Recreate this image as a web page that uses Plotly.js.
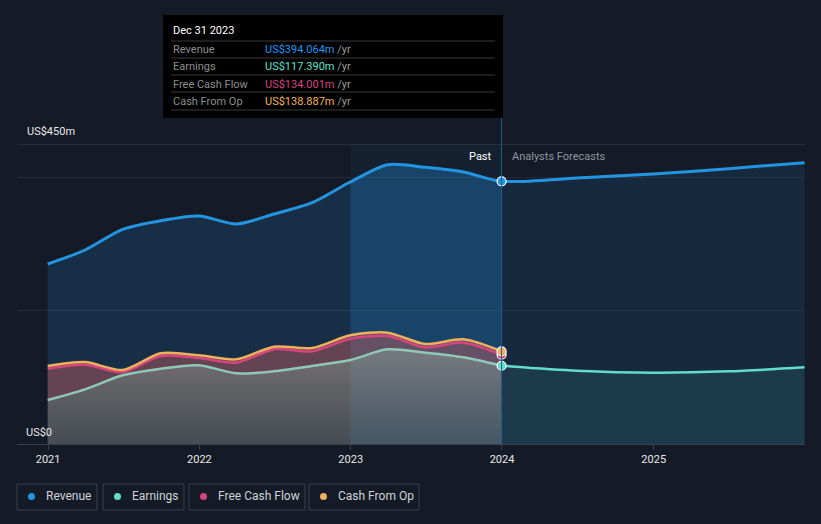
<!DOCTYPE html>
<html>
<head>
<meta charset="utf-8">
<script src="https://cdn.plot.ly/plotly-3.0.1.min.js"></script>
<style>
html,body{margin:0;padding:0;background:#151b26;}
#chart{width:821px;height:524px;}
</style>
</head>
<body>
<div id="chart"></div>
<script>
// ---- data ----
const pastDates = ['2020-12-31','2021-03-31','2021-06-30','2021-09-30','2021-12-31','2022-03-31','2022-06-30','2022-09-30','2022-12-31','2023-03-31','2023-06-30','2023-09-30','2023-12-31'];
const revenuePast = [270,291,322,335,342,330,345,362,393,419,415,408,394.064];
const earningsPast = [66,82,103,113,118,106,109,117,126,142,137,130,117.39];
const fcfPast = [113,119,108,132,129,122,142,139,158,162,145,152,134.001];
const cfoPast = [117,123,111,136,133,127,146,144,163,167,150,157,138.887];

const forecastDates = ['2023-12-31','2024-06-30','2024-12-31','2025-06-30','2025-12-31'];
const revenueForecast = [394.064,399,405,413,422];
const earningsForecast = [117.39,110,107,109,115];

const yTickLabels = ['US$0','US$450m'];
const xTickYears = ['2021','2022','2023','2024','2025'];
const legendNames = ['Revenue','Earnings','Free Cash Flow','Cash From Op'];
const tooltipDate = 'Dec 31 2023';
const tooltipValues = ['US$394.064m','US$117.390m','US$134.001m','US$138.887m'];

// ---- styles ----
const C = {rev:'#2394e0', earn:'#62dccb', earnPast:'#8fc9b6', fcf:'#d6457e', cfo:'#eeb05a'};
const W = 821, H = 524, ML = 17, MR = 16, MT = 144, MB = 80;
const PW = W-ML-MR, PH = H-MT-MB;
const px = x => (x-ML)/PW;
const py = y => (H-MB-y)/PH;

const splitIdx = 8; // 2022-12-31
const traces = [];
function fillTrace(x,y,color,mode,grad){
  const t = {x:x,y:y,type:'scatter',mode:'lines',line:{width:0,shape:'spline',smoothing:0.8},
    fill:mode,fillcolor:color,hoverinfo:'skip',showlegend:false};
  if (grad) t.fillgradient = grad;
  traces.push(t);
}
fillTrace(pastDates.slice(0,splitIdx+1), revenuePast.slice(0,splitIdx+1), 'rgba(33,150,243,0.16)','tozeroy');
fillTrace(pastDates.slice(splitIdx), revenuePast.slice(splitIdx), 'rgba(33,150,243,0.30)','tozeroy');
fillTrace(forecastDates, revenueForecast, 'rgba(33,150,243,0.12)','tozeroy');
fillTrace(pastDates, earningsPast, 'rgba(150,130,120,0.55)','tozeroy',
  {type:'vertical',start:0,stop:130,colorscale:[[0,'rgba(112,104,96,0.52)'],[1,'rgba(176,153,139,0.6)']]});
fillTrace(pastDates, cfoPast, 'rgba(195,95,95,0.45)','tonexty');
fillTrace(forecastDates, earningsForecast, 'rgba(100,220,200,0.10)','tozeroy');

function lineTrace(x,y,color,w){
  traces.push({x:x,y:y,type:'scatter',mode:'lines',line:{width:w,color:color,shape:'spline',smoothing:0.8},
    hoverinfo:'skip',showlegend:false});
}
lineTrace(pastDates.concat(forecastDates.slice(1)), revenuePast.concat(revenueForecast.slice(1)), C.rev, 3);
lineTrace(pastDates, earningsPast, C.earnPast, 2.5);
lineTrace(forecastDates, earningsForecast, C.earn, 2.5);
lineTrace(pastDates, fcfPast, C.fcf, 2.5);
lineTrace(pastDates, cfoPast, C.cfo, 2.5);

const last = pastDates.length-1;
function marker(y,color){
  traces.push({x:[pastDates[last]],y:[y],type:'scatter',mode:'markers',
    marker:{size:9,color:color,line:{color:'#ffffff',width:1.2}},hoverinfo:'skip',showlegend:false});
}
marker(revenuePast[last], C.rev);
marker(earningsPast[last], C.earn);
marker(fcfPast[last], C.fcf);
marker(cfoPast[last], C.cfo);

// ---- shapes & annotations ----
const shapes = [];
const ann = [];
shapes.push({type:'rect',xref:'x',yref:'paper',x0:'2022-12-31',x1:'2023-12-31',y0:0,y1:1,
  fillcolor:'rgba(33,150,243,0.05)',line:{width:0},layer:'below'});
shapes.push({type:'line',xref:'paper',yref:'y',x0:0,x1:1,y0:450,y1:450,line:{color:'#3a404b',width:1},layer:'below'});
shapes.push({type:'line',xref:'x',yref:'paper',x0:'2023-12-31',x1:'2023-12-31',y0:0,y1:py(15),
  line:{color:'#1d5f90',width:1}});
shapes.push({type:'rect',xref:'paper',yref:'paper',x0:px(163),x1:px(503),y0:py(118),y1:py(15),
  fillcolor:'#000000',line:{width:0}});
[41,58,75,92,110].forEach(y=>{
  shapes.push({type:'line',xref:'paper',yref:'paper',x0:px(171),x1:px(495),y0:py(y),y1:py(y),
    line:{color:'#3a3a3a',width:1}});
});
const F = 'Roboto, "Open Sans", sans-serif';
ann.push({xref:'paper',yref:'paper',x:px(171),y:py(31),xanchor:'left',yanchor:'middle',showarrow:false,
  text:tooltipDate,font:{family:F,size:11,color:'#ffffff'}});
const rowY = [49,66,84,101];
const rowColors = ['#2196f3', '#5ee0c8', '#d6437e', '#f0b35a'];
legendNames.forEach((n,i)=>{
  ann.push({xref:'paper',yref:'paper',x:px(171),y:py(rowY[i]),xanchor:'left',yanchor:'middle',showarrow:false,
    text:n,font:{family:F,size:11,color:'#8e8e8e'}});
  ann.push({xref:'paper',yref:'paper',x:px(263),y:py(rowY[i]),xanchor:'left',yanchor:'middle',showarrow:false,
    text:'<span style="color:'+rowColors[i]+'">'+tooltipValues[i]+'</span> /yr',font:{family:F,size:11,color:'#9a9a9a'}});
});
ann.push({xref:'paper',yref:'paper',x:px(25),y:py(131),xanchor:'left',yanchor:'middle',showarrow:false,
  text:yTickLabels[1],font:{family:F,size:11,color:'#e8e8e8'}});
ann.push({xref:'paper',yref:'paper',x:px(24),y:py(432),xanchor:'left',yanchor:'middle',showarrow:false,
  text:yTickLabels[0],font:{family:F,size:11,color:'#e8e8e8'}});
ann.push({xref:'x',yref:'paper',x:'2023-12-31',xshift:-8,y:py(156),xanchor:'right',yanchor:'middle',showarrow:false,
  text:'Past',font:{family:F,size:11,color:'#ffffff'}});
ann.push({xref:'x',yref:'paper',x:'2023-12-31',xshift:8,y:py(156),xanchor:'left',yanchor:'middle',showarrow:false,
  text:'Analysts Forecasts',font:{family:F,size:11,color:'#8e949c'}});
const boxes = [[17,97],[103,184],[189,305],[309,419]];
const dotColors = [C.rev, C.earn, C.fcf, C.cfo];
boxes.forEach((b,i)=>{
  shapes.push({type:'rect',xref:'paper',yref:'paper',x0:px(b[0]),x1:px(b[1]),y0:py(510),y1:py(484),
    fillcolor:'rgba(0,0,0,0)',line:{color:'#3a404b',width:1}});
  shapes.push({type:'circle',xref:'paper',yref:'paper',x0:px(b[0]+11),x1:px(b[0]+18),y0:py(500),y1:py(493),
    fillcolor:dotColors[i],line:{width:0}});
  ann.push({xref:'paper',yref:'paper',x:px(b[0]+27),y:py(496),xanchor:'left',yanchor:'middle',showarrow:false,
    text:legendNames[i],font:{family:F,size:12,color:'#cfd2d6'}});
});

const layout = {
  width:W,height:H,margin:{l:ML,r:MR,t:MT,b:MB},
  paper_bgcolor:'#151b26',plot_bgcolor:'#151b26',
  showlegend:false,
  xaxis:{type:'date',range:['2020-10-18','2026-01-01'],tickvals:xTickYears.map(y=>y+'-01-01'),ticktext:xTickYears,
    showgrid:false,zeroline:false,showline:true,linecolor:'#3a404b',linewidth:1,
    ticks:'outside',ticklen:5,tickcolor:'#3a404b',
    tickfont:{family:F,size:11,color:'#e8e8e8'},fixedrange:true},
  yaxis:{range:[0,450],tickvals:[0,200,400],showticklabels:false,showgrid:true,gridcolor:'#252b36',
    zeroline:false,showline:false,fixedrange:true},
  shapes:shapes,annotations:ann,
  font:{family:F}
};
Plotly.newPlot('chart',traces,layout,{displayModeBar:false,staticPlot:true});
</script>
</body>
</html>
